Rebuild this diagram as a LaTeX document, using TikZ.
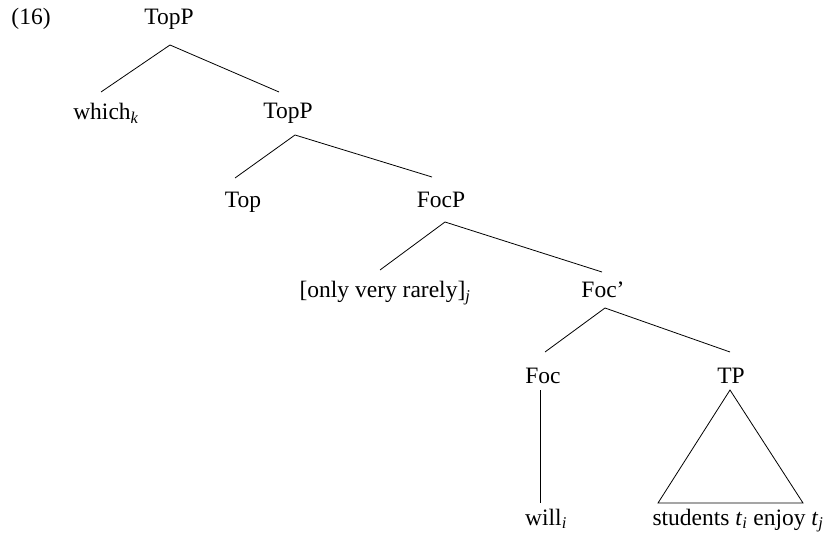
\documentclass[tikz,border=0pt]{standalone}
\usepackage{fontspec}
\setmainfont{Liberation Serif}
\begin{document}
\begin{tikzpicture}[x=1pt,y=-1pt,
  lab/.style={anchor=base,inner sep=0pt,font=\fontsize{23.5}{28}\selectfont},
  edge/.style={draw=black,line width=0.8pt}]
\useasboundingbox (0,0) rectangle (829,534);
\node[lab] (n16) at (31,25) {(16)};
\node[lab] (root) at (169,25) {TopP};
\node[lab] (which) at (106,120) {which\textsubscript{\textit{k}}};
\node[lab] (tp2) at (288,119) {TopP};
\node[lab] (top) at (243,208) {Top};
\node[lab] (focp) at (441,208) {FocP};
\node[lab] (only) at (385,298) {[only very rarely]\textsubscript{\textit{j}}};
\node[lab] (focbar) at (603,298) {Foc'};
\node[lab] (foc) at (543,383) {Foc};
\node[lab] (tp) at (731,383) {TP};
\node[lab] (will) at (546,525) {will\textsubscript{\textit{i}}};
\node[lab] (stud) at (738,525) {students \textit{t}\textsubscript{\textit{i}} enjoy \textit{t}\textsubscript{\textit{j}}};
% edges
\draw[edge] ([xshift=-5pt,yshift=28pt]which.base) -- ([xshift=1pt,yshift=-20pt]root.base) -- ([xshift=-9pt,yshift=27pt]tp2.base);
\draw[edge] ([xshift=-8pt,yshift=30pt]top.base) -- ([xshift=7pt,yshift=-16pt]tp2.base) -- ([xshift=-9pt,yshift=31pt]focp.base);
\draw[edge] ([xshift=-5pt,yshift=28pt]only.base) -- ([xshift=4pt,yshift=-14pt]focp.base) -- ([xshift=-1pt,yshift=26pt]focbar.base);
\draw[edge] ([xshift=2pt,yshift=31pt]foc.base) -- ([xshift=2pt,yshift=-10pt]focbar.base) -- ([xshift=-1pt,yshift=31pt]tp.base);
\draw[edge] ([xshift=-3pt,yshift=-7pt]foc.base) -- ([xshift=-6pt,yshift=22pt]will.base);
\draw[edge,line join=miter] ([xshift=-1pt,yshift=-7pt]tp.base) -- ([xshift=-80pt,yshift=22pt]stud.base) -- ([xshift=65pt,yshift=22pt]stud.base) -- cycle;
\end{tikzpicture}
\end{document}
